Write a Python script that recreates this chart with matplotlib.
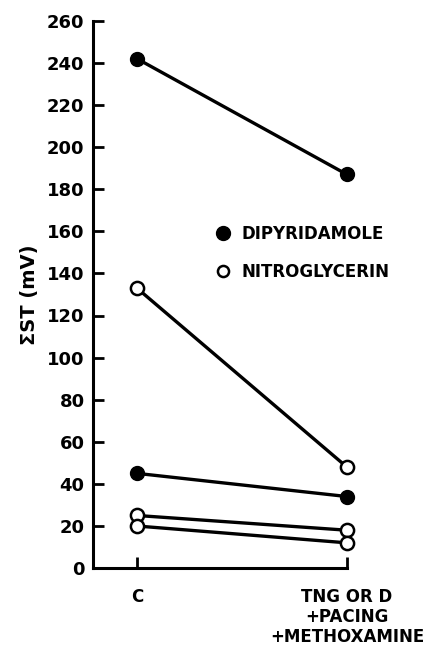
import matplotlib.pyplot as plt
from matplotlib.lines import Line2D

# conditions on the x axis
conditions = ["C", "TNG OR D\n+PACING\n+METHOXAMINE"]

# sum of ST segment changes (mV), one pair per patient
dipyridamole = [[242, 187], [45, 34]]
nitroglycerin = [[133, 48], [25, 18], [20, 12]]

y_ticks = list(range(0, 261, 20))

fig = plt.figure(figsize=(4.32, 6.5), dpi=100)
ax = fig.add_axes([0.215, 0.126, 0.588, 0.842])

x = [0, 1]
for pair in dipyridamole:
    ax.plot(x, pair, color='black', lw=2.4, marker='o', ms=10,
            mfc='black', mec='black', clip_on=False, zorder=3)
for pair in nitroglycerin:
    ax.plot(x, pair, color='black', lw=2.4, marker='o', ms=9.5,
            mfc='white', mec='black', mew=1.8, clip_on=False, zorder=3)

ax.set_xlim(-0.21, 1.0)
ax.set_ylim(0, 260)
ax.set_xticks(x)
ax.set_xticklabels(conditions, fontsize=12, fontweight='bold', linespacing=1.15)
ax.set_yticks(y_ticks)
ax.set_yticklabels([str(v) for v in y_ticks], fontsize=13, fontweight='bold')
ax.tick_params(direction='in', length=8, width=2)
ax.tick_params(axis='x', pad=14)
ax.tick_params(axis='y', pad=6)

for side in ['top', 'right']:
    ax.spines[side].set_visible(False)
for side in ['left', 'bottom']:
    ax.spines[side].set_linewidth(2.2)

ax.set_ylabel("ΣST (mV)", fontsize=14, fontweight='bold', labelpad=6)

# legend with markers only
handles = [
    Line2D([], [], ls='none', marker='o', ms=10, mfc='black', mec='black'),
    Line2D([], [], ls='none', marker='o', ms=8, mfc='white', mec='black', mew=1.8),
]
leg = ax.legend(handles, ["DIPYRIDAMOLE", "NITROGLYCERIN"], loc='upper left',
                bbox_to_anchor=(0.427, 0.654), frameon=False, handlelength=0.8,
                handletextpad=0.7, labelspacing=1.2, prop={'weight': 'bold', 'size': 12})

fig.savefig("out.png", dpi=100)
